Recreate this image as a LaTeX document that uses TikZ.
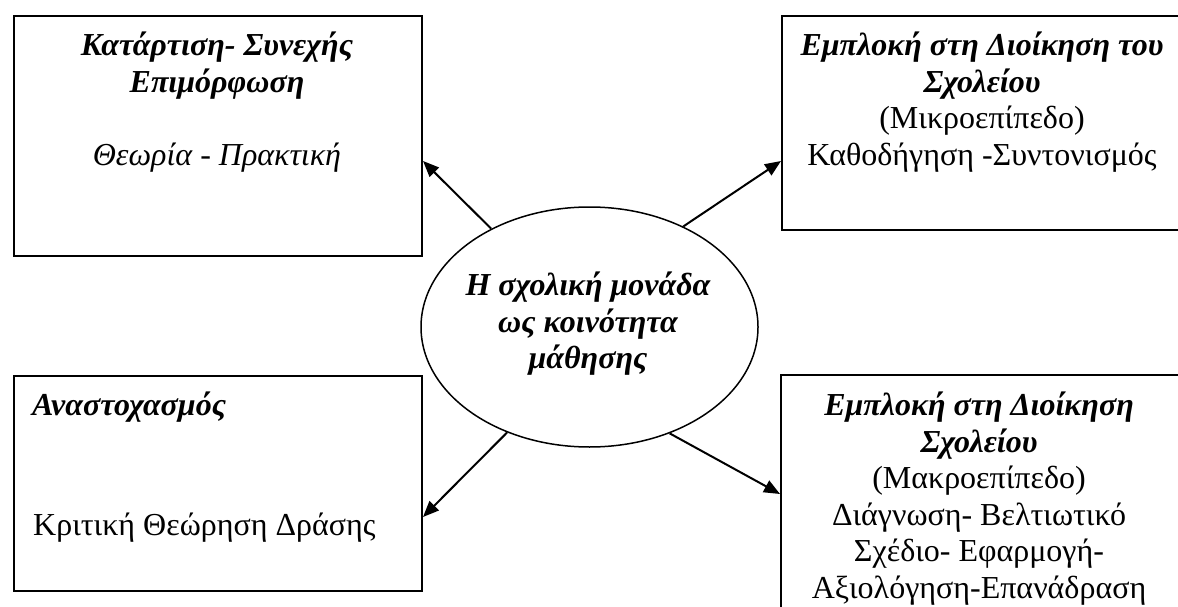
\documentclass[tikz,border=0pt]{standalone}
\usepackage{fontspec}
\setmainfont{Liberation Serif}
\usetikzlibrary{arrows.meta}
\usetikzlibrary{shapes.geometric}

\tikzset{
	box/.style={draw, line width=2pt, anchor=north west, inner sep=0pt},
	txt/.style={align=center, inner sep=0pt, anchor=north, font=\fontsize{32}{36.5}\selectfont},
	arr/.style={-{Triangle[length=16pt,width=13pt]}, line width=2pt}
}
\newcommand{\bi}[1]{{\bfseries\itshape #1}}

\begin{document}
\begin{tikzpicture}[x=1pt, y=-1pt]
	\useasboundingbox (0,0) rectangle (1178,607);
	\clip (0,0) rectangle (1178,607);
	
	% the four boxes
	\node [box, minimum width=408pt, minimum height=240pt] (train) at (13,15) {};
	\node [box, minimum width=405pt, minimum height=214pt] (micro) at (781,15) {};
	\node [box, minimum width=408pt, minimum height=215pt] (refl) at (13,375) {};
	\node [box, minimum width=405pt, minimum height=260pt] (macro) at (780,374) {};
	
	\node [txt] (traintext) at (217,32) {\bi{Κατάρτιση- Συνεχής}\\ \bi{Επιμόρφωση}\\ \\ \textit{Θεωρία - Πρακτική}};
	\node [txt] (microtext) at (982,32) {\bi{Εμπλοκή στη Διοίκηση του}\\ \bi{Σχολείου}\\ (Μικροεπίπεδο)\\ Καθοδήγηση -Συντονισμός};
	\node [txt, anchor=base west] (refltitle) at (32,415) {\bi{Αναστοχασμός}};
	\node [txt, anchor=base west] (refltext) at (33,535) {Κριτική Θεώρηση Δράσης};
	\node [txt] (macrotext) at (979,392) {\bi{Εμπλοκή στη Διοίκηση}\\ \bi{Σχολείου}\\ (Μακροεπίπεδο)\\ Διάγνωση- Βελτιωτικό\\ Σχέδιο- Εφαρμογή-\\ Αξιολόγηση-Επανάδραση};
	
	% the centre
	\node [draw, ellipse, line width=1.5pt, inner sep=0pt, minimum width=337pt, minimum height=240pt] (hub) at (589.5,327) {};
	\node [txt] (hubtext) at (588,272) {\bi{Η σχολική μονάδα}\\ \bi{ως κοινότητα}\\ \bi{μάθησης}};
	
	\coordinate (traintip) at ([yshift=-25pt]train.east);
	\coordinate (microtip) at ([yshift=-38pt]micro.west);
	\coordinate (refltip) at ([yshift=-33.5pt]refl.east);
	\coordinate (macrotip) at ([yshift=-120pt]macro.north west);
	
	\draw [arr] (hub.135) -- (traintip);
	\draw [arr] (hub.47) -- (microtip);
	\draw [arr] (hub.-128) -- (refltip);
	\draw [arr] (hub.-53) -- (macrotip);
\end{tikzpicture}
\end{document}
